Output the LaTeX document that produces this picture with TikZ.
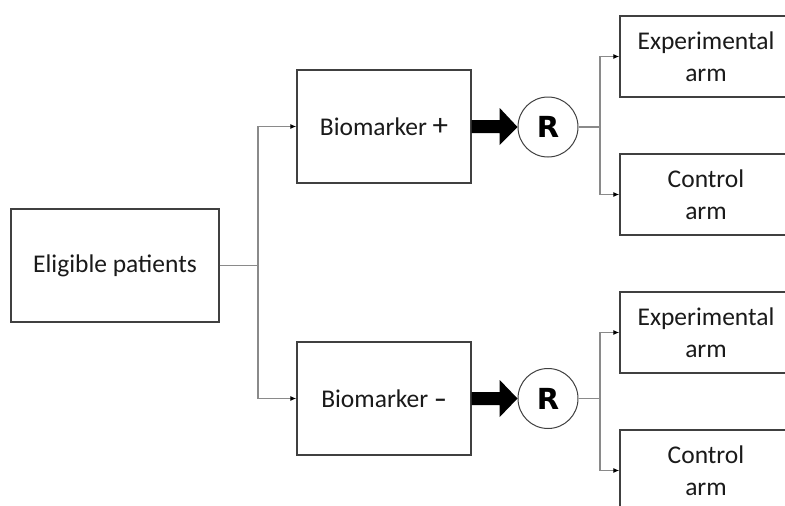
\documentclass[tikz,border=0pt]{standalone}
\usepackage{fontspec}
\setmainfont{Carlito}
\newfontfamily\rfont{DejaVu Sans}
\usetikzlibrary{arrows.meta,calc}

\definecolor{boxline}{HTML}{404040}
\definecolor{linkline}{HTML}{8A8A8A}
\definecolor{txt}{HTML}{1A1A1A}

\tikzset{
  stagebox/.style={draw=boxline, line width=1.4pt, fill=white, text=txt,
    font=\fontsize{25.5}{32}\selectfont, align=center, inner sep=0pt},
  armbox/.style={stagebox, minimum width=172pt, minimum height=81pt},
  randcircle/.style={circle, draw=boxline, line width=1pt, minimum size=60pt,
    inner sep=0pt, text=black, font=\rfont\bfseries\fontsize{29}{29}\selectfont},
  link/.style={draw=linkline, line width=1.1pt},
  linkarrow/.style={link, -{Latex[color=black, length=6pt, width=5pt]}},
  fatarrow/.style={fill=black}
}

\begin{document}
\begin{tikzpicture}[x=1pt, y=-1pt]
  \useasboundingbox (0,0) rectangle (785,506);
  \clip (0,0) rectangle (785,506);
  \fill[white] (0,0) rectangle (785,506);

  % screening and biomarker stages
  \node[stagebox, minimum width=208pt, minimum height=113pt] (elig) at (115,265.5) {Eligible patients};
  \node[stagebox, minimum width=174pt, minimum height=113pt] (bpos) at (384,126.5)
    {Biomarker {\fontsize{31}{31}\selectfont +}};
  \node[stagebox, minimum width=174pt, minimum height=113pt] (bneg) at (384,398.5)
    {Biomarker \textbf{–}};

  % randomisation points
  \node[randcircle] (rpos) at (548,127) {R};
  \node[randcircle] (rneg) at (548,398.5) {R};

  % treatment arms
  \node[armbox] (exppos) at (706,56.5) {Experimental\\arm};
  \node[armbox] (ctlpos) at (706,194.5) {Control\\arm};
  \node[armbox] (expneg) at (706,332.5) {Experimental\\arm};
  \node[armbox] (ctlneg) at (706,470.5) {Control\\arm};

  % split of eligible patients by biomarker status
  \coordinate (split) at (258,265.5);
  \draw[link] (elig.east) -- (split);
  \draw[linkarrow] (split) |- (bpos.west);
  \draw[linkarrow] (split) |- (bneg.west);

  % heavy arrows into randomisation
  \foreach \b/\r in {bpos/rpos, bneg/rneg}{
    \fill[fatarrow] ($(\b.east)+(0,-6.5)$) -- ($(\b.east)+(28,-6.5)$)
      -- ($(\b.east)+(28,-18.5)$) -- (\r.west) -- ($(\b.east)+(28,18.5)$)
      -- ($(\b.east)+(28,6.5)$) -- ($(\b.east)+(0,6.5)$) -- cycle;
  }

  % randomisation to arms
  \coordinate (kpos) at (600,127);
  \coordinate (kneg) at (600,398.5);
  \draw[link] (rpos.east) -- (kpos);
  \draw[linkarrow] (kpos) |- (exppos.west);
  \draw[linkarrow] (kpos) |- (ctlpos.west);
  \draw[link] (rneg.east) -- (kneg);
  \draw[linkarrow] (kneg) |- (expneg.west);
  \draw[linkarrow] (kneg) |- (ctlneg.west);
\end{tikzpicture}
\end{document}
